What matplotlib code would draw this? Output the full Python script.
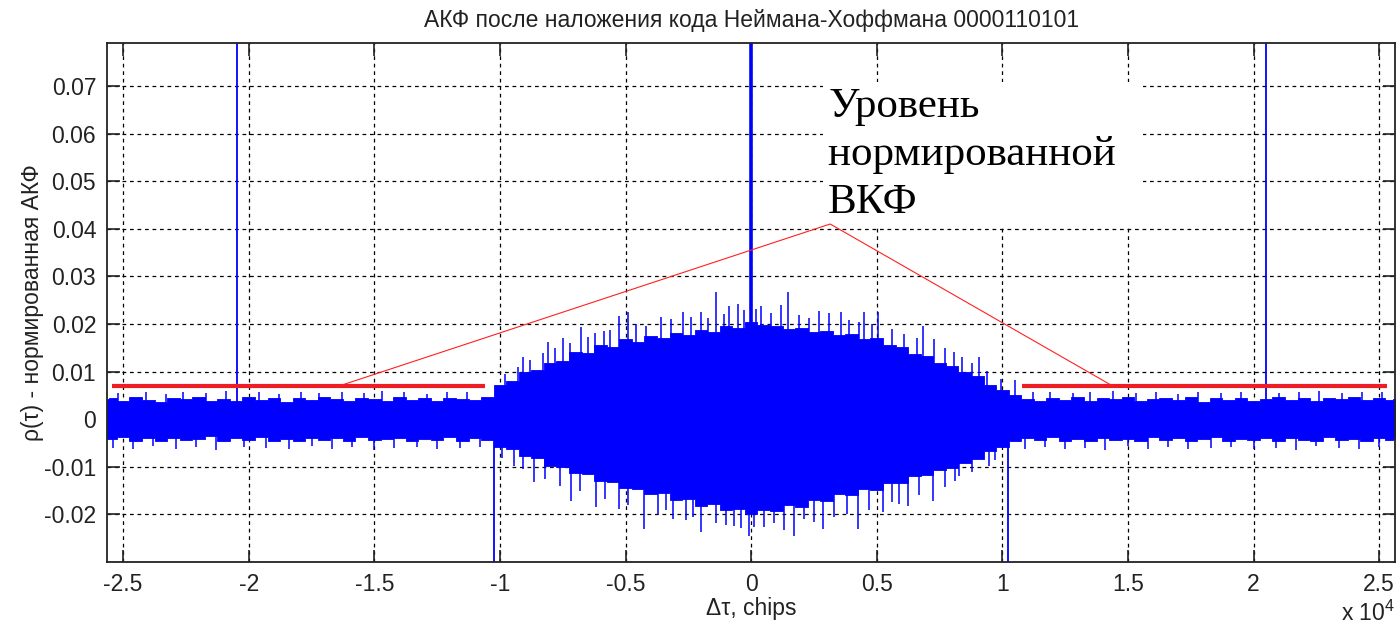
import matplotlib.pyplot as plt
import numpy as np

# sampled envelope of the noisy ACF band: positions in chips (edges + 500-chip grid)
env_tau = np.r_[-25630, np.arange(-25500, 25501, 500), 25630]
env_upper = [0.0042,
             # outer left, -25500 .. -10500
             0.0044, 0.0039, 0.0046, 0.0041, 0.0037, 0.0045, 0.0042, 0.0047, 0.0039, 0.0043,
             0.0038, 0.0046, 0.0041, 0.0044, 0.0037, 0.0045, 0.0040, 0.0047, 0.0042, 0.0038,
             0.0045, 0.0043, 0.0039, 0.0046, 0.0041, 0.0044, 0.0038, 0.0045, 0.0042, 0.0040, 0.0046,
             # inner, -10000 .. 10000
             0.0072, 0.0080, 0.0098, 0.0104, 0.0118, 0.0122, 0.0140, 0.0138, 0.0156, 0.0152,
             0.0168, 0.0162, 0.0174, 0.0170, 0.0180, 0.0176, 0.0188, 0.0184, 0.0196, 0.0192,
             0.0205,
             0.0198, 0.0196, 0.0190, 0.0192, 0.0184, 0.0186, 0.0176, 0.0178, 0.0168, 0.0170,
             0.0156, 0.0152, 0.0136, 0.0132, 0.0118, 0.0112, 0.0098, 0.0090, 0.0072, 0.0062,
             # outer right, 10500 .. 25500
             0.0050, 0.0043, 0.0039, 0.0045, 0.0041, 0.0046, 0.0038, 0.0044, 0.0042, 0.0047,
             0.0039, 0.0043, 0.0045, 0.0040, 0.0046, 0.0037, 0.0044, 0.0041, 0.0045, 0.0039,
             0.0043, 0.0046, 0.0040, 0.0044, 0.0038, 0.0045, 0.0042, 0.0047, 0.0040, 0.0044, 0.0041,
             0.0043]
env_lower = [-0.0041,
             -0.0042, -0.0038, -0.0045, -0.0040, -0.0047, -0.0039, -0.0044, -0.0041, -0.0036, -0.0046,
             -0.0040, -0.0043, -0.0038, -0.0045, -0.0041, -0.0047, -0.0039, -0.0043, -0.0040, -0.0046,
             -0.0037, -0.0044, -0.0042, -0.0039, -0.0045, -0.0041, -0.0043, -0.0038, -0.0046, -0.0040, -0.0044,
             -0.0058, -0.0062, -0.0078, -0.0082, -0.0098, -0.0100, -0.0114, -0.0116, -0.0130, -0.0132,
             -0.0144, -0.0146, -0.0158, -0.0156, -0.0170, -0.0168, -0.0182, -0.0178, -0.0192, -0.0188,
             -0.0200,
             -0.0190, -0.0194, -0.0180, -0.0184, -0.0170, -0.0172, -0.0158, -0.0160, -0.0146, -0.0148,
             -0.0134, -0.0134, -0.0120, -0.0118, -0.0106, -0.0102, -0.0092, -0.0084, -0.0068, -0.0058,
             -0.0046, -0.0040, -0.0044, -0.0038, -0.0045, -0.0042, -0.0047, -0.0039, -0.0043, -0.0041,
             -0.0046, -0.0037, -0.0044, -0.0040, -0.0045, -0.0042, -0.0038, -0.0046, -0.0041, -0.0044,
             -0.0039, -0.0047, -0.0040, -0.0043, -0.0045, -0.0038, -0.0044, -0.0041, -0.0046, -0.0039, -0.0043,
             -0.0042]

# individual noise spikes sticking out of the band
spike_up_tau = [-25200, -24100, -23300, -22600, -21700, -20900, -19600, -18800, -17900, -17200,
                -16300, -15400, -14700, -13800, -12900, -12100, -11300,
                -9800, -9300, -9080, -8800, -8300, -8090, -7800, -7490, -7200, -6770, -6500, -6200,
                -5860, -5600, -5260, -4900, -4600, -4200, -3590, -3200, -2710, -2400, -1990, -1700,
                -1390, -1100, -880, -520, -300,
                200, 400, 800, 1200, 1470, 1900, 2300, 2710, 3100, 3590, 3900, 4300, 4500, 4800,
                5060, 5600, 6100, 6600, 6850, 7290, 7700, 8090, 8400, 8800, 9080, 9400, 9960,
                10500, 11200, 11900, 12800, 13500, 14400, 15300, 16100, 17000, 17800, 18700, 19500,
                21000, 21800, 22600, 23500, 24300, 25100]
spike_up_val = [0.0055, 0.0058, 0.0052, 0.0057, 0.0054, 0.0059, 0.0056, 0.0053, 0.0058, 0.0055,
                0.0057, 0.0054, 0.0059, 0.0056, 0.0053, 0.0058, 0.0057,
                0.0095, 0.0110, 0.0130, 0.0125, 0.0138, 0.0162, 0.0150, 0.0170, 0.0160, 0.0193, 0.0172, 0.0180,
                0.0185, 0.0188, 0.0216, 0.0225, 0.0200, 0.0195, 0.0214, 0.0210, 0.0225, 0.0215, 0.0225, 0.0212,
                0.0267, 0.0220, 0.0237, 0.0242, 0.0230,
                0.0232, 0.0237, 0.0222, 0.0240, 0.0267, 0.0218, 0.0212, 0.0227, 0.0222, 0.0225, 0.0208, 0.0205, 0.0225, 0.0200,
                0.0225, 0.0190, 0.0178, 0.0170, 0.0195, 0.0168, 0.0150, 0.0141, 0.0130, 0.0118, 0.0130, 0.0102, 0.0084,
                0.0082, 0.0056, 0.0058, 0.0054, 0.0057, 0.0059, 0.0055, 0.0058, 0.0053, 0.0057, 0.0055, 0.0058,
                0.0054, 0.0057, 0.0059, 0.0055, 0.0056, 0.0058]
spike_dn_tau = [-25400, -24600, -23800, -22900, -22100, -21300, -20200, -19300, -18400, -17500,
                -16700, -15900, -15000, -14200, -13300, -12500, -11600, -10800,
                -9900, -9440, -9100, -8650, -8200, -7600, -7170, -6800, -6180, -5800, -5260, -4900,
                -4260, -3700, -3400, -3110, -2600, -2300, -1990, -1400, -1000, -680, -400, -80,
                120, 500, 900, 1300, 1710, 2100, 2500, 2870, 3300, 3800, 4260, 4700, 5260, 5600,
                5900, 6260, 6700, 7250, 7700, 8100, 8290, 8800, 9480, 9700,
                10900, 11700, 12500, 13300, 14100, 15000, 15800, 16600, 17400, 18300, 19100,
                20000, 20900, 21700, 22500, 23400, 24200, 25000]
spike_dn_val = [-0.0060, -0.0063, -0.0057, -0.0062, -0.0059, -0.0064, -0.0058, -0.0061, -0.0063, -0.0057,
                -0.0062, -0.0059, -0.0064, -0.0060, -0.0058, -0.0063, -0.0061, -0.0059,
                -0.0082, -0.0099, -0.0105, -0.0133, -0.0125, -0.0140, -0.0172, -0.0152, -0.0185, -0.0168, -0.0189, -0.0180,
                -0.0231, -0.0200, -0.0192, -0.0210, -0.0212, -0.0205, -0.0237, -0.0218, -0.0222, -0.0225, -0.0228, -0.0246,
                -0.0227, -0.0226, -0.0218, -0.0232, -0.0246, -0.0210, -0.0216, -0.0231, -0.0205, -0.0200, -0.0231, -0.0190, -0.0195, -0.0175,
                -0.0178, -0.0183, -0.0160, -0.0172, -0.0142, -0.0130, -0.0120, -0.0112, -0.0099, -0.0085,
                -0.0062, -0.0058, -0.0063, -0.0060, -0.0064, -0.0057, -0.0062, -0.0059, -0.0063, -0.0061, -0.0058,
                -0.0062, -0.0060, -0.0064, -0.0057, -0.0061, -0.0063, -0.0059]

# correlation peaks (they leave the visible range)
peak_tau = [-20480, -10240, 0, 10240, 20480]
peak_val = [0.1, -0.1, 1.0, -0.1, 0.1]

# normalized cross-correlation level and callout
ccf_level = 0.0069
level_left = [-25430, -10590]
level_right = [10775, 25320]
callout_tau = [-16440, 3145, 14410]
callout_val = [0.0069, 0.0410, 0.0069]

xticks = [-25000, -20000, -15000, -10000, -5000, 0, 5000, 10000, 15000, 20000, 25000]
xtick_labels = ['-2.5', '-2', '-1.5', '-1', '-0.5', '0', '0.5', '1', '1.5', '2', '2.5']
yticks = [-0.02, -0.01, 0, 0.01, 0.02, 0.03, 0.04, 0.05, 0.06, 0.07]
ytick_labels = ['-0.02', '-0.01', '0', '0.01', '0.02', '0.03', '0.04', '0.05', '0.06', '0.07']

plt.rcParams['font.family'] = ['Liberation Sans', 'DejaVu Sans']

fig = plt.figure(figsize=(13.97, 6.25), dpi=100)
ax = fig.add_axes([0.0768, 0.1013, 0.9218, 0.8294])
blue = '#0000ff'

ax.fill_between(env_tau, env_lower, env_upper, step='mid', color=blue, lw=0.6, zorder=2)
ax.vlines(spike_up_tau, 0, spike_up_val, color=blue, lw=1.1, zorder=2)
ax.vlines(spike_dn_tau, 0, spike_dn_val, color=blue, lw=1.1, zorder=2)
ax.vlines(peak_tau, 0, peak_val, color=blue, lw=[1.3, 1.3, 2.6, 1.3, 1.3], zorder=2)

ax.hlines(ccf_level, level_left[0], level_left[1], color='#ee1c24', lw=3.0, zorder=3)
ax.hlines(ccf_level, level_right[0], level_right[1], color='#ee1c24', lw=3.0, zorder=3)
ax.plot(callout_tau, callout_val, color='#ff2020', lw=0.8, zorder=5)

# trailing spaces widen the white box to the right, as in the original
ax.text(3065, 0.0697, 'Уровень\nнормированной  \nВКФ', family='Liberation Serif',
        fontsize=31, va='top', ha='left', linespacing=1.32, zorder=4,
        bbox=dict(facecolor='white', edgecolor='none', pad=4))

ax.set_xlim(-25630, 25630)
ax.set_ylim(-0.02996, 0.07897)
ax.set_xticks(xticks)
ax.set_xticklabels(xtick_labels)
ax.set_yticks(yticks)
ax.set_yticklabels(ytick_labels)
ax.tick_params(direction='in', length=9, width=1.2, top=True, right=True,
               labelsize=16.5, colors='#222222', pad=8)
ax.grid(True, color='black', linestyle=(0, (3, 3)), lw=0.9)
ax.set_axisbelow(True)
for s in ax.spines.values():
    s.set_linewidth(1.3)
    s.set_color('#222222')

ax.set_title('АКФ после наложения кода Неймана-Хоффмана 0000110101', fontsize=16.5,
             color='#222222', pad=12)
ax.set_xlabel('Δτ, chips', fontsize=16.5, color='#222222', labelpad=1)
ax.set_ylabel('ρ(τ) - нормированная АКФ', fontsize=16.5, color='#222222', labelpad=0)
ax.text(1.0, -0.1, r'x 10$^{\mathregular{4}}$', transform=ax.transAxes, ha='right', va='center',
        fontsize=16.5, color='#222222')

fig.savefig('out.png', dpi=100)
